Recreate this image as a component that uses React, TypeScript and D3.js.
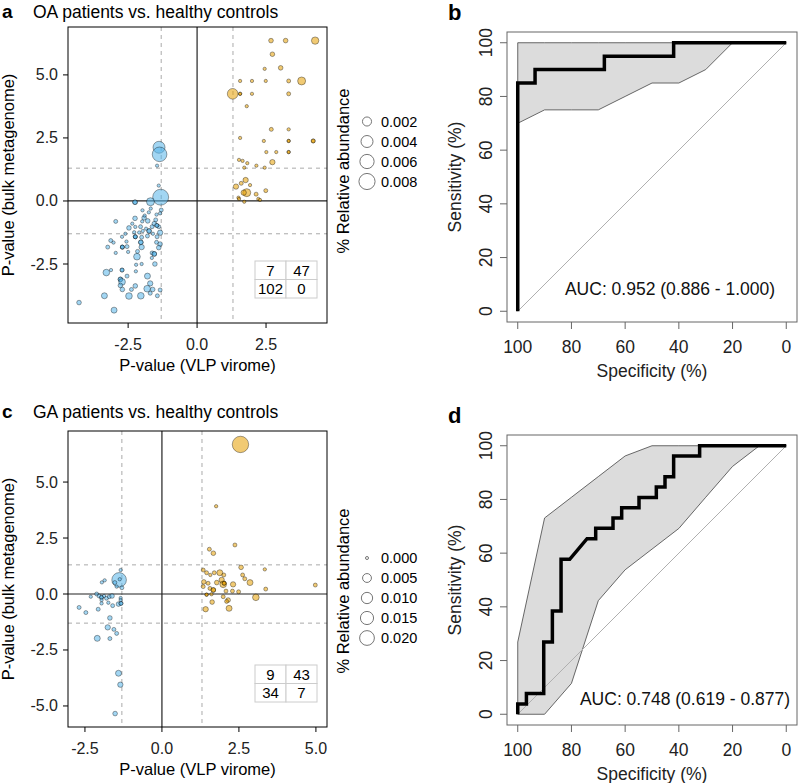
import * as d3 from 'd3';

const FONT = '"Liberation Sans", Arial, Helvetica, sans-serif';
const SIG = -Math.log10(0.05);

// [signed -log10 p VLP virome, signed -log10 p bulk metagenome, % relative abundance]
type Pt = [number, number, number];

const oaDepleted: Pt[] = [
  [-1.38, 2.13, 0.004], [-1.36, 1.85, 0.0064], [-1.45, 1.4, 0.00007], [-1.39, 0.61, 0.00007],
  [-1.32, 0.15, 0.0078], [-1.69, -0.03, 0.00144], [-2.25, -0.05, 0.00028], [-2.25, -0.05, 0.00028],
  [-1.98, -0.37, 0.00007], [-1.68, -0.3, 0.00007], [-1.3, -0.36, 0.00016], [-1.47, -0.54, 0.00007],
  [-1.34, -0.49, 0.00007], [-2.95, -0.81, 0.00016], [-2.25, -0.69, 0.00028], [-1.92, -0.67, 0.00028],
  [-1.79, -0.79, 0.00028], [-1.99, -0.81, 0.00007], [-1.55, -0.9, 0.00028], [-1.39, -1.02, 0.00016],
  [-2.47, -1.07, 0.00028], [-2.24, -1.03, 0.00007], [-2.05, -1.02, 0.00016], [-1.63, -1.02, 0.00016],
  [-1.46, -0.97, 0.00016], [-1.46, -0.97, 0.00016], [-1.74, -1.19, 0.00028], [-1.74, -1.19, 0.00028],
  [-1.97, -1.19, 0.00007], [-2.28, -1.24, 0.00007], [-1.34, -1.26, 0.00045], [-1.8, -1.39, 0.00016],
  [-2.72, -1.42, 0.00007], [-2.24, -1.42, 0.00016], [-2.24, -1.42, 0.00016], [-2.24, -1.42, 0.00016],
  [-2.01, -1.44, 0.00016], [-1.45, -1.42, 0.00016], [-3.13, -1.57, 0.00016], [-3.03, -1.65, 0.00007],
  [-2.56, -1.61, 0.00007], [-2.04, -1.64, 0.00028], [-2.04, -1.64, 0.00028], [-1.47, -1.64, 0.00016],
  [-1.34, -1.71, 0.00028], [-3.24, -1.83, 0.00016], [-2.71, -1.83, 0.00016], [-2.71, -1.83, 0.00016],
  [-2.71, -1.83, 0.00016], [-2.54, -1.81, 0.00016], [-2.01, -1.83, 0.00045], [-1.39, -1.85, 0.00028],
  [-2.95, -2.06, 0.00007], [-2.5, -2.02, 0.00007], [-2.16, -2.0, 0.00016], [-1.63, -2.06, 0.00016],
  [-1.55, -2.1, 0.00028], [-1.55, -2.1, 0.00028], [-2.18, -2.21, 0.00087], [-1.64, -2.26, 0.00007],
  [-2.21, -2.53, 0.00007], [-2.01, -2.5, 0.00007], [-1.53, -2.5, 0.00028], [-3.12, -2.74, 0.00007],
  [-3.29, -2.84, 0.00087], [-2.72, -2.74, 0.00016], [-2.72, -2.74, 0.00016], [-2.22, -2.79, 0.00007],
  [-2.54, -2.98, 0.00016], [-1.8, -2.98, 0.00064], [-2.78, -3.11, 0.00028], [-2.78, -3.11, 0.00028],
  [-2.72, -3.21, 0.00087], [-2.78, -3.35, 0.00028], [-1.7, -3.27, 0.00045], [-2.24, -3.37, 0.00028],
  [-1.81, -3.48, 0.00087], [-2.71, -3.51, 0.00028], [-2.38, -3.51, 0.00016], [-1.61, -3.51, 0.00028],
  [-1.34, -3.53, 0.00016], [-3.36, -3.76, 0.00064], [-2.47, -3.77, 0.00087], [-2.04, -3.76, 0.00087],
  [-1.7, -3.66, 0.00016], [-1.44, -3.76, 0.00016], [-4.28, -4.03, 0.00028], [-3.01, -4.33, 0.00064],
  [-1.9, -0.58, 0.00007], [-1.6, -1.3, 0.00007], [-1.85, -1.1, 0.00007], [-2.1, -1.25, 0.00007],
  [-1.5, -0.75, 0.00016], [-2.6, -1.3, 0.00007], [-1.75, -0.45, 0.00007], [-2.35, -0.9, 0.00007],
];

const oaEnriched: Pt[] = [
  [2.68, 6.36, 0.00028], [3.21, 6.36, 0.00028], [4.28, 6.36, 0.00117], [2.73, 5.82, 0.00028],
  [2.45, 5.24, 0.00007], [3.03, 5.28, 0.00028], [1.56, 4.76, 0.00007], [1.99, 4.76, 0.00007],
  [2.49, 4.76, 0.00007], [3.32, 4.76, 0.00016], [3.79, 4.76, 0.00144], [1.29, 4.25, 0.003],
  [1.56, 4.25, 0.00007], [1.56, 4.25, 0.00007], [1.99, 4.25, 0.00007], [3.32, 4.25, 0.00016],
  [1.8, 3.76, 0.00007], [2.69, 2.84, 0.00016], [3.32, 2.84, 0.00007], [1.56, 2.5, 0.00007],
  [2.42, 2.38, 0.00007], [3.32, 2.38, 0.00007], [3.32, 2.38, 0.00007], [4.21, 2.38, 0.00016],
  [4.21, 2.38, 0.00016], [2.51, 1.94, 0.00007], [2.87, 1.94, 0.00007], [3.32, 1.94, 0.00007],
  [3.32, 1.94, 0.00007], [1.52, 1.63, 0.00007], [1.65, 1.59, 0.00007], [1.82, 1.5, 0.00007],
  [2.15, 1.4, 0.00007], [2.45, 1.32, 0.00007], [2.73, 1.54, 0.00045], [1.71, 1.32, 0.00007],
  [1.41, 0.57, 0.00045], [1.76, 0.83, 0.00045], [1.92, 0.63, 0.00007], [1.8, 0.33, 0.00144],
  [1.69, 0.33, 0.00045], [2.14, 0.27, 0.00016], [2.49, 0.41, 0.00016], [1.5, 0.13, 0.00007],
  [2.22, 0.08, 0.00007], [1.52, 0.08, 0.00007], [1.71, -0.03, 0.00007], [2.28, 0.04, 0.00007],
  [1.6, 0.7, 0.00016],
];

const gaDepleted: Pt[] = [
  [-1.39, 0.63, 0.0195], [-1.37, 0.66, 0.00002], [-1.34, 1.07, 0.00002], [-1.95, 0.52, 0.00002],
  [-1.86, 0.61, 0.00002], [-1.53, 0.51, 0.00014], [-1.3, 0.28, 0.00014], [-1.47, 0.33, 0.00002],
  [-2.31, -0.12, 0.00002], [-2.12, 0, 0.00014], [-2.04, -0.09, 0.00014], [-1.96, -0.15, 0.00014],
  [-1.96, -0.15, 0.00014], [-1.88, -0.09, 0.00002], [-1.8, -0.19, 0.00014], [-1.71, -0.12, 0.00014],
  [-1.62, -0.09, 0.0004], [-1.34, -0.18, 0.00002], [-1.96, -0.27, 0.00002], [-1.74, -0.39, 0.00002],
  [-1.6, -0.52, 0.00014], [-1.41, -0.45, 0.0004], [-1.33, -0.42, 0.00014], [-1.33, -0.42, 0.00014],
  [-1.96, -0.42, 0.00002], [-2.69, -0.6, 0.00014], [-2.47, -0.83, 0.00014], [-2.07, -0.68, 0.00014],
  [-1.69, -1.07, 0.0004], [-1.76, -1.49, 0.0008], [-1.56, -1.58, 0.00014], [-1.47, -1.76, 0.00014],
  [-2.1, -1.98, 0.0013], [-1.69, -1.99, 0.00014], [-1.41, -3.54, 0.0013], [-1.35, -4.05, 0.0008],
  [-1.52, -5.34, 0.0004], [-1.34, -0.27, 0.00002],
];

const gaEnriched: Pt[] = [
  [2.55, 6.68, 0.026], [1.76, 3.92, 0.00002], [2.37, 2.19, 0.00014], [1.54, 2.0, 0.00014],
  [1.67, 1.82, 0.0004], [2.57, 1.19, 0.0004], [1.34, 1.07, 0.00014], [1.45, 0.95, 0.00014],
  [1.57, 0.85, 0.00002], [1.7, 0.95, 0.00014], [1.88, 0.95, 0.0013], [2.01, 0.85, 0.00014],
  [2.62, 0.85, 0.00014], [2.69, 0.68, 0.00014], [2.86, 0.51, 0.0013], [1.36, 0.54, 0.0004],
  [1.34, 0.33, 0.00014], [1.5, 0.48, 0.00014], [1.78, 0.51, 0.0004], [1.94, 0.63, 0.0008],
  [1.99, 0.43, 0.0019], [2.02, 0.48, 0.00014], [2.02, 0.48, 0.00014], [2.31, 0.43, 0.0008],
  [1.56, 0.25, 0.00014], [1.67, 0.18, 0.0004], [1.67, 0.18, 0.0004], [2.08, 0.13, 0.00014],
  [2.29, 0.13, 0.00014], [2.49, 0.1, 0.00014], [1.45, -0.03, 0.00002], [1.45, -0.03, 0.00002],
  [1.61, -0.01, 0.00002], [1.99, -0.12, 0.00014], [2.15, -0.27, 0.0004], [2.1, -0.33, 0.00014],
  [1.63, -0.36, 0.0004], [1.42, -0.68, 0.0008], [2.18, -0.64, 0.0013], [3.34, 1.1, 0.00002],
  [3.37, 0.22, 0.00014], [3.05, -0.15, 0.0019], [4.98, 0.4, 0.00014],
];

// quadrant counts: [upper-left, upper-right], [lower-left, lower-right]
const oaCounts = [[7, 47], [102, 0]];
const gaCounts = [[9, 43], [34, 7]];

const oaXTicks = [-2.5, 0, 2.5];
const oaYTicks = [-2.5, 0, 2.5, 5];
const gaXTicks = [-2.5, 0, 2.5, 5];
const gaYTicks = [-5, -2.5, 0, 2.5, 5];
const oaLegend = [0.002, 0.004, 0.006, 0.008];
const gaLegend = [0, 0.005, 0.01, 0.015, 0.02];

// ROC curves (specificity %, sensitivity %)
const oaRocSpec = [100, 100, 93.55, 93.55, 67.74, 67.74, 41.94, 41.94, 0];
const oaRocSens = [0, 85, 85, 90, 90, 95, 95, 100, 100];
const gaRocSpec = [100, 100, 96.77, 96.77, 90.32, 90.32, 87.1, 87.1, 83.87, 83.87, 80.65, 74.19, 70.97, 70.97,
  64.52, 64.52, 61.29, 61.29, 54.84, 54.84, 48.39, 48.39, 45.16, 45.16, 41.94, 41.94, 32.26, 32.26, 0];
const gaRocSens = [0, 3.85, 3.85, 7.69, 7.69, 26.92, 26.92, 38.46, 38.46, 57.69, 57.69, 65.38, 65.38, 69.23,
  69.23, 73.08, 73.08, 76.92, 76.92, 80.77, 80.77, 84.62, 84.62, 88.46, 88.46, 96.15, 96.15, 100, 100];

// sensitivity confidence band
const ciSpec = [100, 90, 80, 70, 60, 50, 40, 30, 20, 10, 0];
const oaCiLow = [70, 75, 75, 75, 80, 85, 85, 90, 100, 100, 100];
const oaCiHigh = [100, 100, 100, 100, 100, 100, 100, 100, 100, 100, 100];
const gaCiLow = [0, 0, 11.5, 42.3, 53.8, 61.5, 69.2, 80.8, 92.3, 100, 100];
const gaCiHigh = [26.9, 73.1, 80.8, 88.5, 96.2, 100, 100, 100, 100, 100, 100];
const rocTicks = [100, 80, 60, 40, 20, 0];

interface ScatterProps {
  top: number;
  letter: string;
  title: string;
  titleY: number;
  depleted: Pt[];
  enriched: Pt[];
  xDomain: [number, number];
  yDomain: [number, number];
  xTicks: number[];
  yTicks: number[];
  rScale: d3.ScalePower<number, number>;
  legend: number[];
  legendY: number;
  legendTitleY: number;
  counts: number[][];
}

function Scatter(p: ScatterProps) {
  const L = 68, R = 327, T = p.top, B = p.top + 296;
  const x = d3.scaleLinear().domain(p.xDomain).range([L, R]);
  const y = d3.scaleLinear().domain(p.yDomain).range([B, T]);
  const dot = (d: Pt, i: number, fill: string) => (
    <circle key={fill + i} cx={x(d[0])} cy={y(d[1])} r={p.rScale(d[2])}
      fill={fill} fillOpacity={0.55} stroke="#000" strokeOpacity={0.45} strokeWidth={0.8} />
  );
  const cw = 31, ch = 18.5, tx = R - 10 - 2 * cw, ty = B - 25 - 2 * ch;
  return (
    <g fontFamily={FONT}>
      <text x={2} y={p.titleY + 1} fontSize={19} fontWeight="bold">{p.letter}</text>
      <text x={33} y={p.titleY + 1} fontSize={17.5}>{p.title}</text>
      {[-SIG, SIG].map((v) => (
        <line key={'v' + v} x1={x(v)} x2={x(v)} y1={T} y2={B} stroke="#aaa" strokeDasharray="4,4" />
      ))}
      {[-SIG, SIG].map((v) => (
        <line key={'h' + v} x1={L} x2={R} y1={y(v)} y2={y(v)} stroke="#aaa" strokeDasharray="4,4" />
      ))}
      <line x1={x(0)} x2={x(0)} y1={T} y2={B} stroke="#222" strokeWidth={1.2} />
      <line x1={L} x2={R} y1={y(0)} y2={y(0)} stroke="#222" strokeWidth={1.2} />
      {p.enriched.map((d, i) => dot(d, i, '#E69F00'))}
      {p.depleted.map((d, i) => dot(d, i, '#56B4E9'))}
      <g fontSize={15} textAnchor="middle">
        {p.counts.map((row, r) => row.map((c, k) => (
          <g key={r + '-' + k}>
            <rect x={tx + k * cw} y={ty + r * ch} width={cw} height={ch} fill="#fff" stroke="#ccc" />
            <text x={tx + k * cw + cw / 2} y={ty + r * ch + ch / 2 + 5.5}>{c}</text>
          </g>
        )))}
      </g>
      <rect x={L} y={T} width={R - L} height={B - T} fill="none" stroke="#000" />
      {p.xTicks.map((t) => (
        <g key={'xt' + t}>
          <line x1={x(t)} x2={x(t)} y1={B} y2={B + 5} stroke="#000" />
          <text x={x(t)} y={B + 27} fontSize={16} textAnchor="middle" fill="#222">{t.toFixed(1)}</text>
        </g>
      ))}
      {p.yTicks.map((t) => (
        <g key={'yt' + t}>
          <line x1={L - 5} x2={L} y1={y(t)} y2={y(t)} stroke="#000" />
          <text x={58} y={y(t) + 5.5} fontSize={16} textAnchor="end" fill="#222">{t.toFixed(1)}</text>
        </g>
      ))}
      <text x={(L + R) / 2} y={B + 48} fontSize={16.5} textAnchor="middle">P-value (VLP virome)</text>
      <text transform={`translate(14,${(T + B) / 2}) rotate(-90)`} fontSize={16.5} textAnchor="middle">
        P-value (bulk metagenome)
      </text>
      <text transform={`translate(349,${p.legendTitleY}) rotate(-90)`} fontSize={16.5} textAnchor="middle">
        % Relative abundance
      </text>
      {p.legend.map((v, i) => (
        <g key={'lg' + v}>
          <circle cx={367} cy={p.legendY + i * 20} r={p.rScale(v)} fill="none" stroke="#666" strokeWidth={0.9} />
          <text x={381} y={p.legendY + i * 20 + 5} fontSize={14.5}>{v.toFixed(3)}</text>
        </g>
      ))}
    </g>
  );
}

interface RocProps {
  top: number;
  letter: string;
  spec: number[];
  sens: number[];
  low: number[];
  high: number[];
  auc: string;
  aucX: number;
  aucY: number;
}

function Roc(p: RocProps) {
  const L = 507, R = 797, T = p.top, B = p.top + 290;
  const x = d3.scaleLinear().domain([104, -4]).range([L, R]);
  const y = d3.scaleLinear().domain([-4, 104]).range([B, T]);
  const idx = d3.range(p.spec.length);
  const curve = d3.line<number>().x((i) => x(p.spec[i])).y((i) => y(p.sens[i]));
  const band = d3.area<number>().x((i) => x(ciSpec[i])).y0((i) => y(p.low[i])).y1((i) => y(p.high[i]));
  return (
    <g fontFamily={FONT}>
      <text x={448} y={T - 12} fontSize={22} fontWeight="bold">{p.letter}</text>
      <path d={band(d3.range(ciSpec.length)) ?? ''} fill="#dcdcdc" stroke="#444" strokeWidth={0.8} />
      <line x1={x(100)} y1={y(0)} x2={x(0)} y2={y(100)} stroke="#b0b0b0" strokeWidth={1} />
      <path d={curve(idx) ?? ''} fill="none" stroke="#000" strokeWidth={3.5} />
      <rect x={L} y={T} width={R - L} height={B - T} fill="none" stroke="#666" />
      {rocTicks.map((t) => (
        <g key={'x' + t}>
          <line x1={x(t)} x2={x(t)} y1={B} y2={B + 7} stroke="#666" />
          <text x={x(t)} y={B + 31} fontSize={17.5} textAnchor="middle" fill="#222">{t}</text>
          <line x1={L - 7} x2={L} y1={y(t)} y2={y(t)} stroke="#666" />
          <text transform={`translate(492,${y(t)}) rotate(-90)`} fontSize={17.5} textAnchor="middle" fill="#222">{t}</text>
        </g>
      ))}
      <text x={(L + R) / 2} y={B + 55} fontSize={17.5} textAnchor="middle" fill="#222">Specificity (%)</text>
      <text transform={`translate(461,${(T + B) / 2}) rotate(-90)`} fontSize={17.5} textAnchor="middle" fill="#222">
        Sensitivity (%)
      </text>
      <text x={p.aucX} y={p.aucY} fontSize={17.5} textAnchor="middle" fill="#111">{p.auc}</text>
    </g>
  );
}

export default function App() {
  const oaSize = d3.scaleSqrt().domain([0, 0.009]).range([1, 8.5]);
  const gaSize = d3.scaleSqrt().domain([0, 0.026]).range([1.5, 8.2]);
  return (
    <svg width={798} height={783} style={{ position: 'absolute', left: 0, top: 0, background: '#fff' }}>
      <Scatter top={27} letter="a" title="OA patients vs. healthy controls" titleY={17}
        depleted={oaDepleted} enriched={oaEnriched} xDomain={[-4.68, 4.71]} yDomain={[-4.84, 6.9]}
        xTicks={oaXTicks} yTicks={oaYTicks} rScale={oaSize} legend={oaLegend} legendY={121.5}
        legendTitleY={171} counts={oaCounts} />
      <Scatter top={431} letter="c" title="GA patients vs. healthy controls" titleY={417}
        depleted={gaDepleted} enriched={gaEnriched} xDomain={[-3.05, 5.36]} yDomain={[-5.94, 7.28]}
        xTicks={gaXTicks} yTicks={gaYTicks} rScale={gaSize} legend={gaLegend} legendY={558}
        legendTitleY={591} counts={gaCounts} />
      <Roc top={32} letter="b" spec={oaRocSpec} sens={oaRocSens} low={oaCiLow} high={oaCiHigh}
        auc="AUC: 0.952 (0.886 - 1.000)" aucX={670} aucY={295} />
      <Roc top={435} letter="d" spec={gaRocSpec} sens={gaRocSens} low={gaCiLow} high={gaCiHigh}
        auc="AUC: 0.748 (0.619 - 0.877)" aucX={685} aucY={705} />
    </svg>
  );
}
